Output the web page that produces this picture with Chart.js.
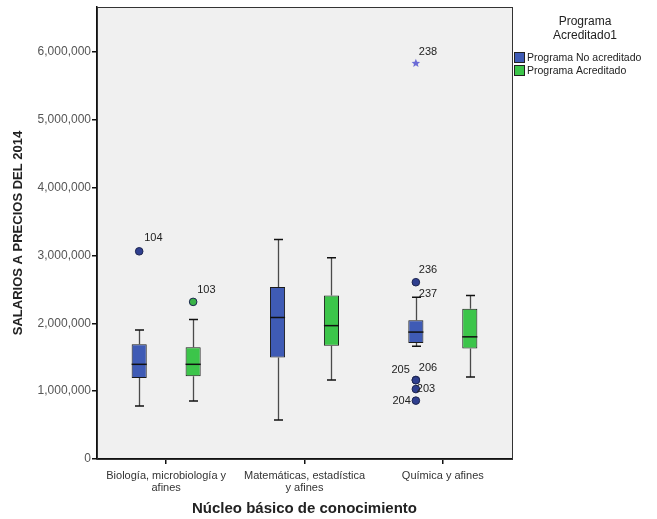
<!DOCTYPE html>
<html>
<head>
<meta charset="utf-8">
<script src="https://cdn.jsdelivr.net/npm/chart.js@4.4.0/dist/chart.umd.min.js"></script>
<style>
  html, body { margin: 0; padding: 0; background: #fff; }
  #wrap { width: 657px; height: 519px; }
</style>
</head>
<body>
<div id="wrap"><canvas id="boxChart"></canvas></div>
<script>
// categories and series
const categories = [["Biología, microbiología y", "afines"], ["Matemáticas, estadística", "y afines"], "Química y afines"];
const seriesNames = ["Programa No acreditado", "Programa Acreditado"];

// box stats, programa no acreditado
const noAcredMin = [780000, 575000, 1660000];
const noAcredQ1 = [1195000, 1495000, 1710000];
const noAcredMedian = [1395000, 2085000, 1870000];
const noAcredQ3 = [1690000, 2535000, 2045000];
const noAcredMax = [1900000, 3235000, 2385000];

// box stats, programa acreditado
const acredMin = [855000, 1165000, 1210000];
const acredQ1 = [1220000, 1670000, 1630000];
const acredMedian = [1395000, 1965000, 1800000];
const acredQ3 = [1645000, 2410000, 2215000];
const acredMax = [2055000, 2965000, 2410000];

// labelled cases (category index, series index, value, case number)
const caseCat = [0, 0, 2, 2, 2, 2, 2, 2, 2];
const caseSeries = [0, 1, 0, 0, 0, 0, 0, 0, 0];
const caseValue = [3060000, 2315000, 5830000, 2605000, 2385000, 1165000, 1160000, 1030000, 860000];
const caseId = ["104", "103", "238", "236", "237", "205", "206", "203", "204"];

// y axis
const yTicks = [0, 1000000, 2000000, 3000000, 4000000, 5000000, 6000000];
const yMax = 6660000;

const colors = ["#3f5bb5", "#3cc54a"];
const outlierFill = ["#2f3f8f", "#39b347"];

const stats = [
    { min: noAcredMin, q1: noAcredQ1, med: noAcredMedian, q3: noAcredQ3, max: noAcredMax },
    { min: acredMin, q1: acredQ1, med: acredMedian, q3: acredQ3, max: acredMax }
];

// where each case number sits relative to its marker
const labelOffsets = {
    "104": [5, -13, "left"], "103": [4, -12, "left"], "238": [3, -11, "left"],
    "236": [3, -12, "left"], "237": [3, -3, "left"], "205": [-6, -10, "right"],
    "206": [3, -12, "left"], "203": [1, 0, "left"], "204": [-5, 0, "right"]
};

function drawStar(ctx, x, y, r) {
    ctx.beginPath();
    for (let i = 0; i < 10; i++) {
        const rad = i % 2 === 0 ? r : r * 0.45;
        const a = -Math.PI / 2 + i * Math.PI / 5;
        ctx.lineTo(x + rad * Math.cos(a), y + rad * Math.sin(a));
    }
    ctx.closePath();
    ctx.fill();
}

const boxParts = {
    id: "boxParts",
    beforeDraw(chart) {
        const { ctx, chartArea: a } = chart;
        ctx.save();
        ctx.fillStyle = "#f0f0f0";
        ctx.fillRect(a.left, a.top, a.right - a.left, a.bottom - a.top);
        ctx.restore();
    },
    afterDatasetsDraw(chart) {
        const ctx = chart.ctx;
        const y = chart.scales.y;
        ctx.save();
        stats.forEach((s, di) => {
            const meta = chart.getDatasetMeta(di);
            meta.data.forEach((bar, ci) => {
                const x = Math.round(bar.x) + 0.5;
                const capHalf = 4.5;
                // whiskers
                ctx.strokeStyle = "#4a4a4a";
                ctx.lineWidth = 1.3;
                ctx.beginPath();
                ctx.moveTo(x, y.getPixelForValue(s.q3[ci]));
                ctx.lineTo(x, y.getPixelForValue(s.max[ci]));
                ctx.moveTo(x, y.getPixelForValue(s.q1[ci]));
                ctx.lineTo(x, y.getPixelForValue(s.min[ci]));
                ctx.stroke();
                ctx.strokeStyle = "#111";
                ctx.lineWidth = 1.5;
                ctx.beginPath();
                [s.max[ci], s.min[ci]].forEach(v => {
                    const py = y.getPixelForValue(v);
                    ctx.moveTo(x - capHalf, py);
                    ctx.lineTo(x + capHalf, py);
                });
                ctx.stroke();
                // median
                const pm = y.getPixelForValue(s.med[ci]);
                ctx.beginPath();
                ctx.moveTo(bar.x - bar.width / 2, pm);
                ctx.lineTo(bar.x + bar.width / 2, pm);
                ctx.stroke();
            });
        });
        // labelled cases
        caseValue.forEach((v, i) => {
            const si = caseSeries[i];
            const ci = caseCat[i];
            const bar = chart.getDatasetMeta(si).data[ci];
            const s = stats[si];
            const iqr = s.q3[ci] - s.q1[ci];
            const px = bar.x;
            const py = y.getPixelForValue(v);
            const extreme = v > s.q3[ci] + 3 * iqr || v < s.q1[ci] - 3 * iqr;
            const outlier = v > s.q3[ci] + 1.5 * iqr || v < s.q1[ci] - 1.5 * iqr;
            if (extreme) {
                ctx.fillStyle = "#6b6bd6";
                drawStar(ctx, px, py, 4.5);
            } else if (outlier) {
                ctx.beginPath();
                ctx.arc(px, py, 3.8, 0, Math.PI * 2);
                ctx.fillStyle = outlierFill[si];
                ctx.fill();
                ctx.lineWidth = 1;
                ctx.strokeStyle = "#1d2550";
                ctx.stroke();
            }
            const off = labelOffsets[caseId[i]];
            ctx.font = '11px "Liberation Sans", Arial, sans-serif';
            ctx.fillStyle = "#222";
            ctx.textAlign = off[2];
            ctx.textBaseline = "middle";
            ctx.fillText(caseId[i], px + off[0], py + off[1]);
        });
        ctx.restore();
    },
    afterDraw(chart) {
        const { ctx, chartArea: a } = chart;
        ctx.save();
        ctx.strokeStyle = "#333";
        ctx.lineWidth = 1;
        ctx.strokeRect(a.left + 0.5, a.top + 0.5, a.right - a.left, a.bottom - a.top);
        // legend
        ctx.fillStyle = "#222";
        ctx.textAlign = "center";
        ctx.textBaseline = "middle";
        ctx.font = '12px "Liberation Sans", Arial, sans-serif';
        ctx.fillText("Programa", 585, 22);
        ctx.fillText("Acreditado1", 585, 36);
        ctx.textAlign = "left";
        ctx.font = '10.5px "Liberation Sans", Arial, sans-serif';
        seriesNames.forEach((name, i) => {
            const ly = 58 + 13 * i;
            ctx.fillStyle = colors[i];
            ctx.fillRect(514.5, ly - 5.5, 10, 10);
            ctx.strokeStyle = "#222";
            ctx.strokeRect(514.5, ly - 5.5, 10, 10);
            ctx.fillStyle = "#222";
            ctx.fillText(name, 527, ly);
        });
        ctx.restore();
    }
};

new Chart(document.getElementById("boxChart"), {
    type: "bar",
    data: {
        labels: categories,
        datasets: seriesNames.map((name, di) => ({
            label: name,
            data: stats[di].q1.map((q1, i) => [q1, stats[di].q3[i]]),
            backgroundColor: colors[di],
            borderColor: "#1a1a1a",
            borderWidth: 1,
            borderSkipped: false,
            categoryPercentage: 0.78,
            barPercentage: 0.28
        }))
    },
    options: {
        responsive: true,
        maintainAspectRatio: false,
        animation: false,
        layout: { padding: { top: 7, right: 145, left: 0, bottom: 0 } },
        plugins: {
            legend: { display: false },
            tooltip: { enabled: false }
        },
        scales: {
            x: {
                afterFit: s => { s.height = 60; },
                grid: { display: true, drawOnChartArea: false, offset: false, tickLength: 5, color: "#111", lineWidth: 1.5 },
                border: { display: true, color: "#111", width: 1.5 },
                ticks: {
                    color: "#333",
                    padding: 6,
                    maxRotation: 0,
                    autoSkip: false,
                    font: { family: '"Liberation Sans", Arial, sans-serif', size: 11, lineHeight: 1.1 }
                },
                title: {
                    display: true,
                    text: "Núcleo básico de conocimiento",
                    color: "#222",
                    padding: { top: 0, bottom: 1 },
                    font: { family: '"Liberation Sans", Arial, sans-serif', size: 15, weight: "bold" }
                }
            },
            y: {
                min: 0,
                max: yMax,
                afterFit: s => { s.width = 97; s.paddingTop = 0; s.paddingBottom = 0; },
                afterBuildTicks: s => { s.ticks = yTicks.map(v => ({ value: v })); },
                grid: { display: true, drawOnChartArea: false, tickLength: 5, color: "#111", lineWidth: 1.5 },
                border: { display: true, color: "#111", width: 1.5 },
                ticks: {
                    color: "#555",
                    padding: 1,
                    callback: v => v.toLocaleString("en-US"),
                    font: { family: '"Liberation Sans", Arial, sans-serif', size: 12 }
                },
                title: {
                    display: true,
                    text: "SALARIOS A PRECIOS DEL 2014",
                    color: "#222",
                    padding: { top: 11, bottom: 0 },
                    font: { family: '"Liberation Sans", Arial, sans-serif', size: 13, weight: "bold" }
                }
            }
        }
    },
    plugins: [boxParts]
});
</script>
</body>
</html>
